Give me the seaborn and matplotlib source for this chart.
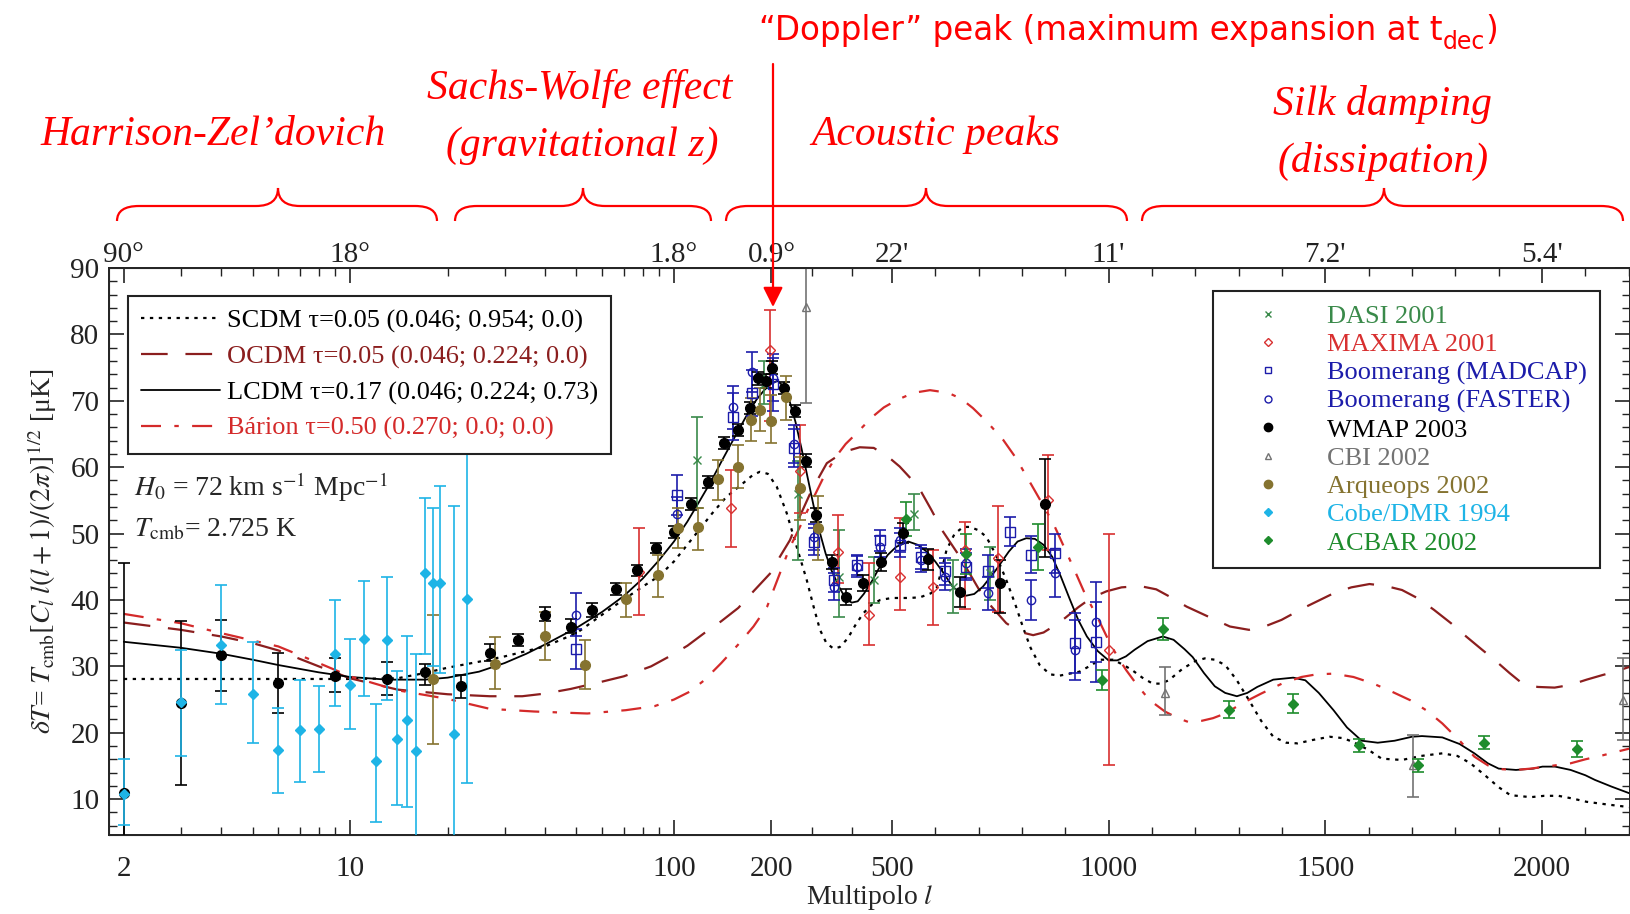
import numpy as np
import pandas as pd
import matplotlib
matplotlib.use("Agg")
import matplotlib.pyplot as plt
import seaborn as sns
from matplotlib.lines import Line2D
from matplotlib.path import Path
from matplotlib.patches import PathPatch, FancyArrowPatch

# ---- theory curves (l, dT in muK) ----
scdm_l = [2, 5, 10, 14, 17, 20, 25, 30, 40, 50, 65, 80, 90, 100, 115, 131, 145, 160, 175, 184, 195, 213, 238, 263,
          288, 305, 321, 337, 354, 370, 390, 410, 429, 450, 471, 500, 540, 565, 590, 603, 615, 626, 645, 665, 680,
          700, 718, 740, 764, 785, 803, 820, 841, 865, 887, 910, 933, 955, 981, 1010, 1035, 1055, 1080, 1102, 1120,
          1139, 1170, 1200, 1222, 1245, 1269, 1295, 1324, 1352, 1380, 1410, 1436, 1470, 1510, 1540, 1565, 1600,
          1630, 1677, 1720, 1770, 1805, 1835, 1870, 1900, 1927, 1974, 2005, 2038, 2070, 2103, 2150, 2201]
scdm_v = [28.1, 28.1, 28.1, 28.2, 29.0, 29.8, 30.7, 31.5, 33.0, 35.0, 39.0, 42.0, 43.6, 45.8, 49.5, 53.0, 55.5, 57.2,
          58.8, 59.3, 59.0, 57.1, 53.1, 48.0, 43.0, 39.0, 35.5, 33.5, 32.7, 32.9, 34.2, 36.3, 38.0, 39.3, 40.0, 40.3,
          40.3, 40.4, 41.0, 41.8, 44.5, 47.5, 50.0, 51.0, 51.0, 50.5, 49.5, 46.8, 43.0, 39.3, 35.8, 32.8, 30.2, 28.8,
          28.6, 28.9, 29.2, 30.0, 31.0, 31.0, 30.2, 29.4, 28.2, 27.4, 27.4, 27.9, 29.6, 30.8, 31.2, 31.0, 30.2, 28.0,
          24.9, 21.8, 19.4, 18.5, 18.4, 18.9, 19.4, 19.2, 18.6, 17.4, 16.1, 15.9, 16.5, 16.9, 16.5, 15.4, 13.5, 11.8,
          10.6, 10.3, 10.5, 10.5, 10.1, 9.6, 9.2, 8.8]

ocdm_l = [2, 3, 4, 5, 6, 8, 10, 14, 20, 27, 34, 40, 48, 60, 70, 85, 96, 110, 124, 140, 158, 176, 200, 221, 246, 270,
          300, 338, 380, 420, 455, 490, 518, 545, 565, 590, 618, 657, 700, 730, 764, 795, 826, 850, 872, 900, 930,
          960, 995, 1030, 1072, 1110, 1141, 1180, 1233, 1280, 1324, 1360, 1399, 1450, 1519, 1560, 1602, 1640, 1677,
          1715, 1751, 1790, 1825, 1860, 1890, 1925, 1955, 1990, 2029, 2065, 2103, 2140, 2168, 2201]
ocdm_v = [36.6, 35.5, 34.5, 33.5, 32.4, 30.0, 28.2, 26.5, 25.8, 25.5, 25.5, 25.9, 26.6, 27.7, 28.5, 30.0, 31.4, 33.1,
          35.0, 36.8, 38.8, 41.3, 44.2, 46.5, 49.0, 52.5, 56.5, 60.6, 62.3, 63.0, 62.9, 61.6, 60.1, 58.2, 56.6, 53.7,
          50.3, 46.5, 41.7, 39.0, 36.5, 35.2, 34.7, 35.1, 36.0, 37.3, 38.9, 40.3, 41.3, 41.9, 42.1, 41.6, 40.5, 39.0,
          37.4, 36.0, 35.5, 36.0, 37.0, 38.8, 41.0, 41.9, 42.4, 42.1, 41.5, 40.2, 38.5, 36.5, 34.5, 32.6, 31.0, 29.0,
          27.4, 26.9, 26.8, 27.2, 28.0, 28.7, 29.2, 29.9]

lcdm_l = [2, 3, 4, 5, 6, 8, 10, 13, 17, 20, 25, 30, 35, 40, 50, 60, 70, 80, 90, 100, 110, 120, 130, 140, 150, 160,
          170, 180, 190, 200, 215, 230, 245, 260, 275, 290, 305, 320, 335, 350, 370, 385, 400, 415, 430, 450, 470,
          490, 510, 538, 560, 580, 600, 620, 640, 668, 690, 710, 740, 770, 790, 810, 830, 850, 870, 890, 910, 930,
          950, 975, 1000, 1020, 1040, 1060, 1090, 1125, 1150, 1175, 1194, 1220, 1245, 1269, 1296, 1320, 1343, 1380,
          1426, 1454, 1485, 1519, 1550, 1584, 1621, 1660, 1700, 1723, 1770, 1810, 1844, 1875, 1900, 1940, 1980,
          2001, 2030, 2066, 2100, 2122, 2160, 2201]
lcdm_v = [33.7, 32.8, 31.9, 31.0, 30.2, 29.1, 28.4, 28.0, 28.0, 28.3, 29.2, 30.5, 31.9, 33.3, 35.8, 38.2, 40.6, 43.2,
          46.0, 48.8, 51.8, 54.9, 57.8, 60.8, 63.5, 66.0, 68.3, 70.2, 71.6, 72.6, 73.0, 72.2, 70.0, 66.8, 62.8, 58.5,
          54.2, 50.3, 47.0, 44.4, 41.8, 40.2, 39.6, 39.8, 40.9, 42.8, 45.0, 46.8, 48.0, 48.8, 48.3, 47.3, 45.8, 44.0,
          42.0, 40.6, 40.9, 42.0, 44.5, 47.3, 48.8, 49.3, 49.2, 48.3, 46.5, 43.5, 40.2, 37.0, 34.5, 32.3, 30.9, 30.9,
          31.5, 32.5, 33.8, 34.5, 34.0, 32.6, 31.4, 29.0, 27.0, 26.0, 25.5, 26.0, 26.9, 28.0, 28.3, 27.9, 26.0, 23.4,
          20.8, 18.8, 18.5, 18.8, 19.4, 19.5, 19.3, 18.3, 16.9, 15.4, 14.6, 14.4, 14.6, 14.9, 14.9, 14.4, 13.6, 12.9,
          11.9, 10.9]

barion_l = [2, 3, 4, 6, 8, 10, 14, 20, 27, 37, 54, 71, 87, 100, 112, 124, 140, 158, 176, 194, 221, 245, 271, 300,
            330, 361, 385, 412, 450, 480, 511, 550, 588, 630, 660, 687, 720, 757, 785, 811, 840, 872, 895, 918, 945,
            975, 1003, 1022, 1041, 1068, 1095, 1130, 1160, 1185, 1215, 1241, 1269, 1310, 1352, 1400, 1445, 1480,
            1519, 1565, 1611, 1650, 1696, 1735, 1770, 1810, 1844, 1875, 1909, 1940, 1974, 2020, 2066, 2100, 2140,
            2170, 2201]
barion_v = [37.9, 36.5, 35.0, 33.0, 30.5, 28.5, 26.4, 25.1, 23.6, 23.2, 22.9, 23.4, 24.0, 25.0, 26.2, 27.9, 30.5,
            33.3, 36.0, 39.0, 44.0, 47.8, 51.0, 54.8, 58.5, 61.6, 63.5, 65.1, 67.5, 69.0, 70.1, 71.2, 71.6, 71.2,
            70.3, 68.9, 66.8, 64.1, 61.5, 58.6, 55.3, 51.6, 48.3, 45.0, 41.0, 37.3, 33.5, 31.3, 29.4, 27.0, 24.9,
            23.2, 22.2, 21.6, 21.8, 22.2, 22.9, 24.5, 25.9, 27.4, 28.4, 28.8, 28.9, 28.4, 27.4, 26.3, 24.9, 23.3,
            21.4, 18.8, 16.4, 15.1, 14.5, 14.4, 14.6, 15.0, 15.4, 16.0, 16.6, 17.1, 17.6]

# ---- measurements ----
wmap_l = [2, 3, 4, 6, 9, 13, 17, 22, 27, 33, 40, 48, 56, 66, 77, 88, 100, 113, 127, 143, 158, 172, 182, 193, 202,
          232, 258, 285, 312, 350, 387, 427, 473, 526, 584, 657, 749, 853]
wmap_v = [11.0, 24.5, 31.7, 27.5, 28.6, 28.1, 29.1, 27.0, 32.0, 34.0, 37.8, 35.9, 38.5, 41.7, 44.5, 47.8, 50.2, 54.5,
          57.8, 63.6, 65.6, 68.9, 73.4, 73.0, 75.0, 71.9, 68.4, 61.0, 52.8, 45.7, 40.5, 42.5, 45.7, 50.1, 46.1, 41.2,
          42.5, 54.4]
wmap_lo = [0.0, 12.2, 26.3, 23.0, 26.2, 25.7, 27.2, 25.2, 30.8, 33.0, 36.9, 35.0, 37.5, 40.7, 43.6, 47.0, 49.3, 53.6,
           56.9, 62.7, 64.7, 68.0, 72.4, 72.0, 74.0, 71.0, 67.5, 60.0, 51.8, 44.6, 39.3, 41.3, 44.4, 48.6, 44.5, 38.9,
           38.0, 46.5]
wmap_hi = [45.5, 36.9, 37.0, 32.0, 31.3, 30.6, 30.3, 28.7, 33.3, 34.8, 38.9, 37.2, 39.5, 42.6, 45.2, 48.6, 51.1, 55.4,
           58.7, 64.5, 66.5, 69.8, 74.3, 74.0, 76.0, 72.9, 69.3, 62.0, 53.8, 46.8, 41.7, 43.7, 47.0, 51.6, 47.7, 43.5,
           46.0, 61.3]

cobe_l = [2, 3, 4, 5, 6, 7, 8, 9, 10, 11, 12, 13, 14, 15, 16, 17, 18, 19, 21, 23]
cobe_v = [10.8, 24.6, 33.2, 25.9, 17.4, 20.4, 20.6, 31.9, 27.2, 34.1, 15.8, 33.9, 19.1, 21.9, 17.2, 44.1, 42.6, 42.6,
          19.8, 40.2]
cobe_lo = [6.1, 16.5, 24.4, 18.4, 11.0, 12.6, 14.1, 24.1, 20.5, 25.5, 6.6, 25.0, 9.1, 8.8, 0.0, 31.8, 30.0, 29.0,
           0.0, 12.5]
cobe_hi = [16.1, 32.5, 42.2, 33.6, 23.8, 28.0, 27.0, 40.0, 34.1, 42.8, 24.3, 43.4, 29.3, 34.6, 31.8, 55.4, 53.9, 57.2,
           54.2, 70.0]

arch_l = [18, 28, 40, 53, 71, 89, 103, 119, 137, 158, 173, 185, 200, 236, 272, 315]
arch_v = [28.1, 30.4, 34.6, 30.2, 40.1, 43.8, 50.8, 51.0, 58.2, 60.1, 67.1, 68.6, 66.9, 70.5, 56.8, 50.8]
arch_lo = [18.3, 26.6, 30.9, 26.6, 37.4, 40.5, 47.8, 47.5, 55.1, 56.8, 63.9, 65.4, 63.6, 67.1, 52.1, 46.0]
arch_hi = [37.7, 34.4, 38.2, 34.0, 42.6, 46.8, 53.8, 53.8, 61.1, 63.4, 70.4, 71.9, 70.9, 73.7, 61.6, 55.6]

maxima_l = [78, 150, 198, 271, 366, 444, 518, 595, 668, 745, 860, 1000]
maxima_v = [44.2, 53.8, 77.7, 59.5, 47.3, 37.7, 43.5, 42.0, 47.5, 46.3, 55.0, 32.5]
maxima_lo = [37.7, 48.0, 67.0, 53.1, 42.5, 33.2, 38.5, 36.2, 38.7, 38.2, 47.5, 15.2]
maxima_hi = [50.8, 59.6, 83.7, 66.4, 52.8, 45.5, 52.3, 47.5, 51.8, 54.1, 61.8, 50.0]

madcap_l = [50, 102, 152, 174, 205, 255, 307, 356, 414, 471, 518, 568, 622, 672, 722, 773, 822, 876, 922, 972]
madcap_v = [32.6, 55.8, 67.6, 71.2, 72.5, 62.9, 48.8, 43.0, 45.3, 49.0, 48.3, 46.5, 44.3, 45.0, 44.3, 50.3, 46.8, 47.0,
            33.5, 33.7]
madcap_err = [3.0, 3.0, 3.5, 3.5, 4.0, 2.8, 2.0, 1.8, 1.5, 1.6, 1.8, 1.8, 2.0, 2.0, 2.5, 2.2, 2.8, 3.0, 4.5, 6.0]

faster_l = [50, 102, 152, 174, 205, 255, 307, 356, 414, 471, 518, 568, 622, 672, 722, 822, 876, 922, 972]
faster_v = [37.8, 53.0, 69.0, 74.3, 73.5, 63.5, 49.5, 42.0, 45.0, 48.0, 49.0, 46.0, 43.5, 45.5, 41.0, 40.0, 44.0,
            32.5, 36.7]
faster_err = [3.2, 2.5, 3.3, 3.0, 3.5, 2.8, 2.0, 2.0, 1.6, 1.6, 1.8, 1.8, 2.0, 2.2, 2.5, 3.0, 3.5, 4.5, 6.0]

dasi_l = [118, 190, 265, 368, 455, 551, 640, 726]
dasi_v = [61.1, 72.5, 56.0, 43.4, 43.0, 53.0, 42.0, 44.0]
dasi_lo = [53.8, 69.5, 46.0, 37.5, 39.5, 50.5, 38.0, 40.0]
dasi_hi = [67.6, 76.0, 61.0, 50.5, 46.5, 56.0, 46.0, 48.0]

cbi_l = [286, 1131, 1703, 2187]
cbi_v = [84.2, 26.0, 15.1, 24.9]
cbi_lo = [69.6, 22.7, 10.3, 18.9]
cbi_hi = [100.0, 29.9, 19.6, 31.2]

acbar_l = [532, 672, 837, 984, 1125, 1278, 1425, 1578, 1714, 1866, 2081]
acbar_v = [52.2, 46.9, 48.0, 28.0, 35.6, 23.5, 24.4, 18.1, 15.1, 18.5, 17.6]
acbar_err = [2.5, 3.0, 3.5, 1.5, 1.7, 1.3, 1.4, 1.0, 1.0, 1.0, 1.2]

tick_l = [2, 10, 100, 200, 500, 1000, 1500, 2000]
tick_ang = ["90°", "18°", "1.8°", "0.9°", "22'", "11'", "7.2'", "5.4'"]
minor_l = [3, 4, 5, 6, 7, 8, 9, 20, 30, 40, 50, 60, 70, 80, 90, 300, 400, 600, 700, 800, 900,
           1100, 1200, 1300, 1400, 1600, 1700, 1800, 1900, 2100, 2200]

# ---- colours ----
c_ocdm = "#8b1e1e"
c_bar = "#d42a2a"
c_dasi = "#3a8a4a"
c_max = "#d83030"
c_boom = "#1c1caa"
c_cbi = "#737373"
c_arch = "#857330"
c_cobe = "#1eb4e6"
c_acbar = "#1e8c2c"

# ---- hybrid x axis: log up to l=200, linear above ----
L1, L2 = 200.0, 500.0
KLOG = 324.0
S1 = 120.5 / 300.0
S2 = 0.4337
P1 = KLOG * np.log10(L1)
P2 = P1 + (L2 - L1) * S1


def fwd(l):
    l = np.asarray(l, dtype=float)
    lg = KLOG * np.log10(np.clip(l, 1e-6, None))
    return np.where(l <= L1, lg, np.where(l <= L2, P1 + (l - L1) * S1, P2 + (l - L2) * S2))


def inv(p):
    p = np.asarray(p, dtype=float)
    lg = 10 ** (np.clip(p, -3000, P1) / KLOG)
    return np.where(p <= P1, lg, np.where(p <= P2, L1 + (p - P1) / S1, L2 + (p - P2) / S2))


sns.set_style("ticks")
plt.rcParams["font.family"] = ["Liberation Serif", "DejaVu Serif"]
plt.rcParams["mathtext.fontset"] = "stix"

W, H = 1631, 914
fig = plt.figure(figsize=(W / 100, H / 100), dpi=100)
ax = fig.add_axes([109 / W, 79 / H, 1521 / W, 567 / H])
ax.set_xscale("function", functions=(fwd, inv))
ax.set_xlim(1.8, 2203)
ax.set_ylim(4.6, 90)

# theory curves
curves = pd.DataFrame({
    "l": scdm_l + ocdm_l + lcdm_l + barion_l,
    "v": scdm_v + ocdm_v + lcdm_v + barion_v,
    "m": ["scdm"] * len(scdm_l) + ["ocdm"] * len(ocdm_l) + ["lcdm"] * len(lcdm_l) + ["bar"] * len(barion_l),
})
styles = {
    "scdm": dict(color="black", linestyle=(0, (1.5, 2.5)), lw=1.6),
    "ocdm": dict(color=c_ocdm, linestyle=(0, (12, 8)), lw=1.6),
    "lcdm": dict(color="black", linestyle="-", lw=1.3),
    "bar": dict(color=c_bar, linestyle=(0, (9, 6, 2, 6)), lw=1.6),
}
for key, st in styles.items():
    sub = curves[curves["m"] == key]
    sns.lineplot(data=sub, x="l", y="v", ax=ax, estimator=None, sort=False, legend=False, zorder=2, **st)


def errs(v, lo, hi):
    v = np.array(v)
    return [v - np.array(lo), np.array(hi) - v]


eb = dict(capsize=4.5, elinewidth=1.2, capthick=1.2, linestyle="none", zorder=3)
ax.errorbar(dasi_l, dasi_v, yerr=errs(dasi_v, dasi_lo, dasi_hi), fmt="x", color=c_dasi, ms=6, **eb)
ax.errorbar(maxima_l, maxima_v, yerr=errs(maxima_v, maxima_lo, maxima_hi), fmt="D", color=c_max,
            mfc="none", ms=5, **eb)
ax.errorbar(madcap_l, madcap_v, yerr=madcap_err, fmt="s", color=c_boom, mfc="none", ms=7, **eb)
ax.errorbar(faster_l, faster_v, yerr=faster_err, fmt="o", color=c_boom, mfc="none", ms=6, **eb)
ax.errorbar(wmap_l, wmap_v, yerr=errs(wmap_v, wmap_lo, wmap_hi), fmt="o", color="black", ms=7, **eb)
ax.errorbar(cbi_l, cbi_v, yerr=errs(cbi_v, cbi_lo, cbi_hi), fmt="^", color=c_cbi, mfc="none", ms=6, **eb)
ax.errorbar(arch_l, arch_v, yerr=errs(arch_v, arch_lo, arch_hi), fmt="o", color=c_arch, ms=7, **eb)
ax.errorbar(cobe_l, cobe_v, yerr=errs(cobe_v, cobe_lo, cobe_hi), fmt="D", color=c_cobe, ms=5, **eb)
ax.errorbar(acbar_l, acbar_v, yerr=acbar_err, fmt="D", color=c_acbar, ms=5, **eb)

# axes, ticks
ax.set_xticks(tick_l)
ax.set_xticklabels([str(t) for t in tick_l])
ax.set_xticks(minor_l, minor=True)
ax.set_yticks(range(10, 91, 10))
ax.set_yticks(range(6, 90, 2), minor=True)
ax.tick_params(axis="both", which="both", direction="in", labelsize=21, colors="#222222")
ax.tick_params(axis="x", which="major", length=11, width=1.2, pad=15)
ax.tick_params(axis="x", which="minor", length=6, width=1.0)
ax.tick_params(axis="y", which="major", length=11, width=1.2, pad=7, right=True)
ax.tick_params(axis="y", which="minor", length=5.5, width=1.0, right=True)
for s in ax.spines.values():
    s.set_linewidth(1.4)
    s.set_color("#222222")

ax2 = ax.twiny()
ax2.set_xscale("function", functions=(fwd, inv))
ax2.set_xlim(ax.get_xlim())
ax2.set_xticks(tick_l)
ax2.set_xticklabels(tick_ang)
ax2.set_xticks(minor_l, minor=True)
ax2.tick_params(axis="x", which="both", direction="in", labelsize=21, colors="#222222", pad=0)
ax2.tick_params(axis="x", which="major", length=11, width=1.2)
ax2.tick_params(axis="x", which="minor", length=6, width=1.0)

ax.set_xlabel("Multipolo $l$", fontsize=20, labelpad=1)
ax.set_ylabel(r"$\delta T$= $T_{\rm cmb}[C_l\; l(l+1)/(2\pi)]^{1/2}$ [μK]", fontsize=20, labelpad=8)

ax.text(0.0164, 0.614, r"$H_0$ = 72 km s$^{-1}$ Mpc$^{-1}$", transform=ax.transAxes, fontsize=20,
        va="center", ha="left", zorder=6)
ax.text(0.0164, 0.538, r"$T_{\rm cmb}$= 2.725 K", transform=ax.transAxes, fontsize=20,
        va="center", ha="left", zorder=6)

# legends
theory_handles = [Line2D([], [], **styles[k]) for k in ["scdm", "ocdm", "lcdm", "bar"]]
theory_labels = ["SCDM τ=0.05 (0.046; 0.954; 0.0)", "OCDM τ=0.05 (0.046; 0.224; 0.0)",
                 "LCDM τ=0.17 (0.046; 0.224; 0.73)", "Bárion τ=0.50 (0.270; 0.0; 0.0)"]
leg1 = ax.legend(theory_handles, theory_labels, loc="upper left", bbox_to_anchor=(0.0125, 0.9506),
                 borderaxespad=0, fontsize=19, handlelength=3.0, handletextpad=0.25, labelspacing=0.45,
                 borderpad=0.5, fancybox=False, framealpha=1, edgecolor="#222222",
                 labelcolor=["black", c_ocdm, "black", c_bar])
leg1.get_frame().set_linewidth(1.5)
leg1.set_zorder(7)
ax.add_artist(leg1)

mk = dict(linestyle="none")
data_handles = [
    Line2D([], [], marker="x", color=c_dasi, ms=5, **mk),
    Line2D([], [], marker="D", color=c_max, mfc="none", ms=4, **mk),
    Line2D([], [], marker="s", color=c_boom, mfc="none", ms=5, **mk),
    Line2D([], [], marker="o", color=c_boom, mfc="none", ms=5, **mk),
    Line2D([], [], marker="o", color="black", ms=6, **mk),
    Line2D([], [], marker="^", color=c_cbi, mfc="none", ms=5, **mk),
    Line2D([], [], marker="o", color=c_arch, ms=6, **mk),
    Line2D([], [], marker="D", color=c_cobe, ms=4, **mk),
    Line2D([], [], marker="D", color=c_acbar, ms=4, **mk),
]
data_labels = ["DASI 2001", "MAXIMA 2001", "Boomerang (MADCAP)", "Boomerang (FASTER)", "WMAP 2003",
               "CBI 2002", "Arqueops 2002", "Cobe/DMR 1994", "ACBAR 2002"]
leg2 = ax.legend(data_handles, data_labels, loc="upper right", bbox_to_anchor=(0.980, 0.959),
                 borderaxespad=0, fontsize=19, handlelength=3.2, handletextpad=0.6, labelspacing=0.18,
                 borderpad=0.5, fancybox=False, framealpha=1, edgecolor="#222222",
                 labelcolor=[c_dasi, c_max, c_boom, c_boom, "black", c_cbi, c_arch, c_cobe, c_acbar])
leg2.get_frame().set_linewidth(1.5)
leg2.set_zorder(7)


# ---- red annotations above the plot ----
def fx(x):
    return x / W


def fy(y):
    return 1 - y / H


def brace(x0, x1, xm, ytop=188, ymid=206, ybot=221, r=22):
    verts = [(x0, ybot), (x0, ymid), (x0 + r, ymid), (xm - r, ymid), (xm, ymid), (xm, ytop),
             (xm, ymid), (xm + r, ymid), (x1 - r, ymid), (x1, ymid), (x1, ybot)]
    codes = [Path.MOVETO, Path.CURVE3, Path.CURVE3, Path.LINETO, Path.CURVE3, Path.CURVE3,
             Path.CURVE3, Path.CURVE3, Path.LINETO, Path.CURVE3, Path.CURVE3]
    verts = [(fx(a), fy(b)) for a, b in verts]
    fig.add_artist(PathPatch(Path(verts, codes), transform=fig.transFigure, fill=False,
                             edgecolor="red", lw=1.6))


brace(117, 437, 278)
brace(455, 711, 583)
brace(726, 1127, 926)
brace(1142, 1623, 1384)

red_txt = dict(color="red", fontsize=30, style="italic", family="Liberation Serif", ha="center", va="center")
fig.text(fx(213), fy(135), "Harrison-Zel’dovich", **red_txt)
fig.text(fx(580), fy(88), "Sachs-Wolfe effect", **red_txt)
fig.text(fx(582), fy(146), "(gravitational z)", **red_txt)
fig.text(fx(936), fy(135), "Acoustic peaks", **red_txt)
fig.text(fx(1383), fy(104), "Silk damping", **red_txt)
fig.text(fx(1383), fy(161), "(dissipation)", **red_txt)

fig.canvas.draw()
rend = fig.canvas.get_renderer()
sans = dict(color="red", family="DejaVu Sans", va="baseline", ha="left")
t1 = fig.text(fx(759), fy(40), "“Doppler” peak (maximum expansion at t", fontsize=23.5, **sans)
e1 = t1.get_window_extent(rend)
t2 = fig.text(e1.x1 / W, fy(49), "dec", fontsize=17, **sans)
e2 = t2.get_window_extent(rend)
fig.text(e2.x1 / W, fy(40), ")", fontsize=23.5, **sans)

arrow = FancyArrowPatch((fx(773), fy(64)), (fx(773), fy(307)), transform=fig.transFigure,
                        arrowstyle="-|>,head_length=0.6,head_width=0.3", mutation_scale=20,
                        color="red", lw=1.6, shrinkA=0, shrinkB=0)
fig.add_artist(arrow)

fig.savefig("out.png", dpi=100)
